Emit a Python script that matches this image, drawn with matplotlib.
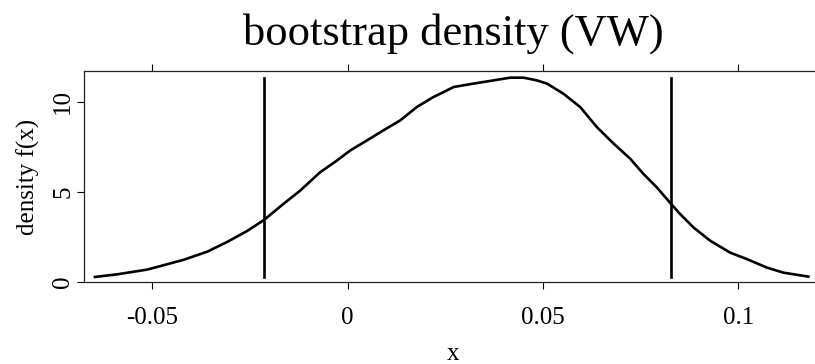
import matplotlib
matplotlib.use("Agg")
import matplotlib.pyplot as plt

plt.rcParams['font.family'] = ['Liberation Serif', 'DejaVu Serif']

# density curve
x_vals = [-0.0647, -0.0589, -0.0513, -0.0487, -0.0419, -0.0359, -0.0308, -0.0257,
          -0.0214, -0.0165, -0.0122, -0.0071, -0.0028, 0.0006, 0.0049, 0.0091,
          0.0134, 0.0177, 0.0219, 0.0250, 0.0271, 0.0322, 0.0365, 0.0416, 0.0450,
          0.0484, 0.0510, 0.0552, 0.0595, 0.0638, 0.0680, 0.0723, 0.0757, 0.0791,
          0.0828, 0.0851, 0.0885, 0.0928, 0.0979, 0.1022, 0.1073, 0.1115, 0.1179]
density = [0.28, 0.43, 0.69, 0.84, 1.24, 1.69, 2.23, 2.84,
           3.45, 4.33, 5.07, 6.09, 6.74, 7.30, 7.86, 8.42,
           8.97, 9.72, 10.27, 10.60, 10.83, 11.02, 11.17, 11.35, 11.35,
           11.20, 11.02, 10.46, 9.72, 8.60, 7.70, 6.85, 6.00, 5.26,
           4.33, 3.77, 3.03, 2.29, 1.63, 1.27, 0.80, 0.52, 0.30]
ci_bounds = [-0.0213, 0.0828]

x_ticks = [-0.05, 0.0, 0.05, 0.1]
x_tick_labels = ["-0.05", "0", "0.05", "0.1"]
y_ticks = [0, 5, 10]
y_tick_labels = ["0", "5", "10"]

fig = plt.figure(figsize=(8.15, 3.64), dpi=100)
ax = fig.add_axes([84/815, 1-282/364, (822-84)/815, (282-71)/364])

ax.plot(x_vals, density, color='black', lw=1.9, solid_joinstyle='round')
ymin, ymax = min(density), max(density)
for b in ci_bounds:
    ax.plot([b, b], [ymin, ymax], color='black', lw=1.9)

ax.set_xlim(-0.0675, 0.1214)
ax.set_ylim(0, 11.72)

ax.set_xticks(x_ticks)
ax.set_xticklabels(x_tick_labels, fontsize=18)
ax.set_yticks(y_ticks)
ax.set_yticklabels(y_tick_labels, fontsize=18, rotation=90, va='center')
ax.tick_params(axis='x', which='both', top=True, labeltop=False, direction='out',
               length=5, width=0.8, pad=13)
ax.tick_params(axis='y', which='both', direction='out', length=5, width=0.8, pad=2)
for s in ax.spines.values():
    s.set_linewidth(0.9)
    s.set_color('#222222')

ax.set_title("bootstrap density (VW)", fontsize=32, pad=19)
ax.set_xlabel("x", fontsize=18, labelpad=10)
ax.set_ylabel("density f(x)", fontsize=18, labelpad=9)

fig.savefig("out.png", dpi=100)
